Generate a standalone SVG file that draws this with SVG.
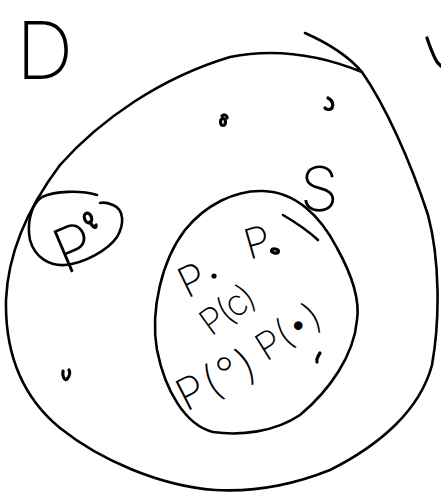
<svg xmlns="http://www.w3.org/2000/svg" width="441" height="493" viewBox="0 0 441 493">
<style>
.ln{fill:none;stroke:#000;stroke-width:2.6;stroke-linecap:round;stroke-linejoin:round}
.mk{fill:none;stroke:#000;stroke-width:3.2;stroke-linecap:round;stroke-linejoin:round}
.hw{font-family:"Inter","Lato","DejaVu Sans",sans-serif;font-weight:200;fill:#000}
</style>
<rect width="441" height="493" fill="#fff"/>
<g id="outer">
<path class="ln" d="M305,33 C330,44 350,58 362,72 C385,105 410,160 428,215 C440,260 440,320 432,365 C420,410 380,445 330,470 C290,486 250,492 215,490 C160,486 100,460 60,428 C20,395 5,350 6,300 C8,250 30,205 60,165 C100,120 160,78 230,57 C275,48 320,55 362,72"/>
</g>
<g id="inner">
<path class="ln" d="M263,191 C295,192 320,215 337,248 C352,275 360,300 357,320 C354,355 330,390 300,415 C275,432 240,436 213,432 C185,425 165,390 157,350 C150,310 162,260 185,230 C205,205 235,190 263,191 Z"/>
<path class="ln" d="M283,215 C295,222 305,228 318,240"/>
</g>
<g id="small">
<path class="ln" d="M97,195 C80,190 55,191 42,197 C30,205 27,225 30,240 C35,258 50,266 65,265 C85,263 108,250 117,237 C124,225 125,210 113,205 C108,203 104,202 100,203"/>
</g>
<g id="labels">
<text class="hw" x="16" y="79" font-size="80">D</text>
<text class="hw" x="300" y="211" font-size="62">S</text>
<text class="hw" font-size="62" transform="translate(65,275) rotate(-23)">P</text>
<text class="hw" font-size="42" transform="translate(187,299) rotate(-26)">P</text>
<text class="hw" font-size="42" transform="translate(249,260) rotate(-16)">P</text>
<text class="hw" font-size="36" letter-spacing="-2" transform="translate(211,337) rotate(-36)">P(c)</text>
<text class="hw" font-size="38" transform="translate(266,362) rotate(-32)">P(•)</text>
<text class="hw" font-size="44" letter-spacing="2" transform="translate(186,412) rotate(-27)">P(°)</text>
</g>
<g id="marks">
<ellipse class="mk" cx="88" cy="218" rx="3.5" ry="5" transform="rotate(-20 88 218)"/>
<path class="mk" d="M90,222 C93,228 97,229 96,225"/>
<ellipse class="mk" cx="223" cy="122" rx="2.5" ry="3.5"/>
<path class="mk" d="M222,116 C224,114 227,115 227,118"/>
<path class="mk" d="M328,98 C332,100 334,104 332,108 C330,110 327,110 325,108"/>
<path class="mk" d="M63,371 C62,377 65,381 67,379 C70,376 70,372 69,370"/>
<path class="mk" d="M427,38 C430,47 434,57 437,62 L441,66"/>
<path class="mk" d="M320,353 C318,356 316,359 317,362"/>
<circle cx="214" cy="276" r="2.6" fill="#000"/>
<ellipse class="mk" cx="275" cy="251" rx="3.5" ry="2" transform="rotate(15 275 251)"/>
</g>
</svg>
